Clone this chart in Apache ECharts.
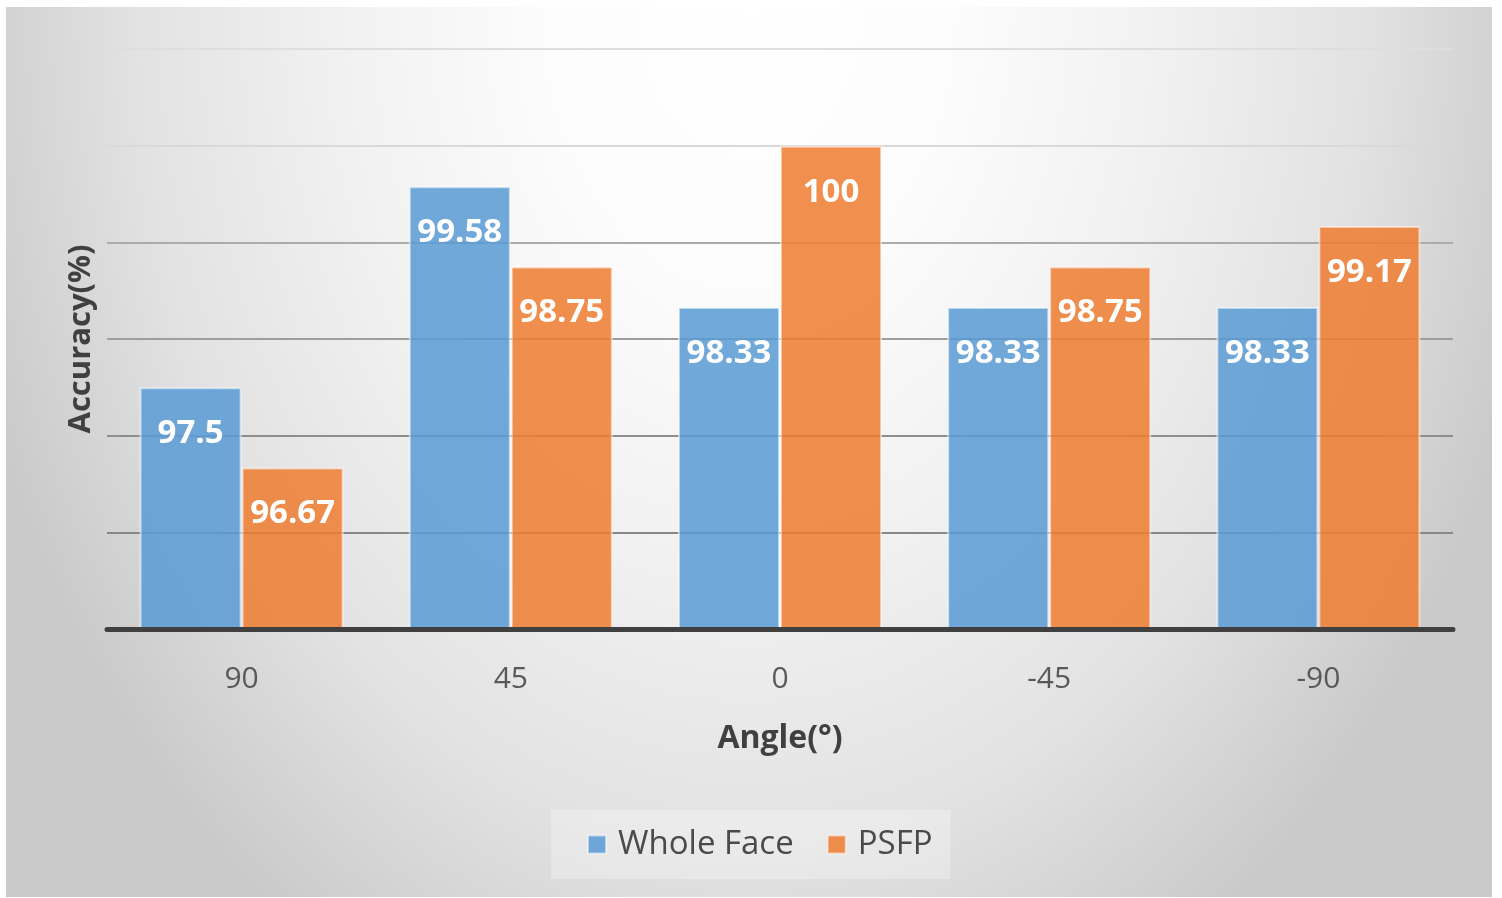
<!DOCTYPE html>
<html>
<head>
<meta charset="utf-8">
<script src="https://cdn.jsdelivr.net/npm/echarts@6/dist/echarts.min.js"></script>
<style>
  html, body { margin: 0; padding: 0; background: #ffffff; }
  #panel {
    position: absolute; left: 6px; top: 7px; width: 1486px; height: 890px;
    background: radial-gradient(ellipse 820px 1120px at 50% 0%,
      #ffffff 0%, #fcfcfc 25%, #f1f1f1 50%, #e2e2e2 75%, #c9c9c9 100%);
  }
  #chart { position: absolute; left: 0; top: 0; width: 1502px; height: 898px; }
</style>
</head>
<body>
<div id="panel"></div>
<div id="chart"></div>
<script>
// Recognition accuracy by head angle
const angles = ['90', '45', '0', '-45', '-90'];
const wholeFace = [97.5, 99.58, 98.33, 98.33, 98.33];
const psfp = [96.67, 98.75, 100, 98.75, 99.17];
const seriesNames = ['Whole Face', 'PSFP'];

const FONT = '"Open Sans", "Noto Sans", sans-serif';

const barLabel = {
  show: true,
  position: 'insideTop',
  distance: 30,
  color: '#ffffff',
  fontFamily: FONT,
  fontWeight: 'bold',
  fontSize: 33,
  formatter: p => String(p.value)
};

const chart = echarts.init(document.getElementById('chart'), null, { renderer: 'canvas' });
chart.setOption({
  backgroundColor: 'transparent',
  animation: false,
  textStyle: { fontFamily: FONT },
  grid: { left: 107, right: 49, top: 49, bottom: 269, containLabel: false },
  legend: {
    data: seriesNames,
    bottom: 19,
    left: 551,
    itemWidth: 18,
    itemHeight: 18,
    itemGap: 33,
    padding: [18, 18, 18, 36],
    backgroundColor: 'rgba(255,255,255,0.28)',
    textStyle: { fontFamily: FONT, fontSize: 33, color: '#4a4a4a', padding: [0, 0, 0, 7] },
    icon: 'rect'
  },
  xAxis: {
    type: 'category',
    data: angles,
    z: 5,
    name: 'Angle(°)',
    nameLocation: 'middle',
    nameGap: 94,
    nameTextStyle: { fontFamily: FONT, fontSize: 32, fontWeight: 'bold', color: '#404040' },
    axisLine: { lineStyle: { color: '#404040', width: 5 } },
    axisTick: { show: false },
    axisLabel: { margin: 35, fontSize: 30, color: '#595959', fontFamily: FONT }
  },
  yAxis: {
    type: 'value',
    min: 95,
    max: 101,
    interval: 1,
    name: 'Accuracy(%)',
    nameLocation: 'middle',
    nameGap: 10,
    nameRotate: 90,
    nameTextStyle: { fontFamily: FONT, fontSize: 31, fontWeight: 'bold', color: '#404040' },
    axisLine: { show: false },
    axisTick: { show: false },
    axisLabel: { show: false },
    splitLine: {
      lineStyle: {
        width: 2,
        color: ['#7a7a7a', '#888888', '#8e8e8e', '#9e9e9e', '#ababab', '#d9d9d9', '#dedede']
      }
    }
  },
  series: [
    {
      name: seriesNames[0],
      type: 'bar',
      data: wholeFace,
      barWidth: 102,
      barGap: '0%',
      itemStyle: { color: 'rgba(91,155,213,0.86)', borderColor: 'rgba(255,255,255,0.5)', borderWidth: 2 },
      label: barLabel
    },
    {
      name: seriesNames[1],
      type: 'bar',
      data: psfp,
      barWidth: 102,
      barGap: '0%',
      itemStyle: { color: 'rgba(237,125,49,0.86)', borderColor: 'rgba(255,255,255,0.5)', borderWidth: 2 },
      label: barLabel
    }
  ]
});
</script>
</body>
</html>
